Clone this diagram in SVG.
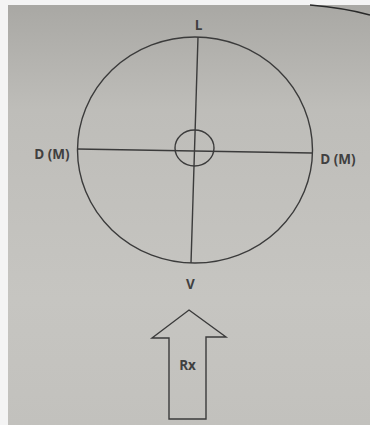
<svg xmlns="http://www.w3.org/2000/svg" width="370" height="425" viewBox="0 0 370 425">
<defs>
<linearGradient id="paper" x1="0" y1="0" x2="0" y2="1">
<stop offset="0" stop-color="#a9a8a4"/>
<stop offset="0.25" stop-color="#bebdb9"/>
<stop offset="0.7" stop-color="#c6c5c1"/>
<stop offset="1" stop-color="#c2c1bd"/>
</linearGradient>
<style>
.ln{fill:none;stroke:#3b3b3b;stroke-width:1.4}
.lb{font-family:"Open Sans","Liberation Sans",sans-serif;font-weight:bold;font-size:13.5px;fill:#404040}
</style>
</defs>
<rect width="370" height="425" fill="#f4f4f4"/>
<rect x="8" y="5" width="362" height="420" fill="url(#paper)"/>
<path d="M310 5 Q345 8 370 15" fill="none" stroke="#2a2a2a" stroke-width="1.6"/>
<g id="connectors">
<line class="ln" x1="198" y1="37" x2="191" y2="263"/>
<line class="ln" x1="77" y1="149" x2="312" y2="153"/>
</g>
<g id="outer-circle"><ellipse class="ln" cx="195" cy="150" rx="117.5" ry="113"/></g>
<g id="inner-circle"><ellipse class="ln" cx="194.5" cy="148" rx="19.5" ry="18"/></g>
<g id="label-L"><text class="lb" x="198.5" y="30" text-anchor="middle" font-size="12">L</text></g>
<g id="label-DM-left"><text class="lb" x="52" y="159" text-anchor="middle">D (M)</text></g>
<g id="label-DM-right"><text class="lb" x="338" y="163.5" text-anchor="middle">D (M)</text></g>
<g id="label-V"><text class="lb" x="190.5" y="288.5" text-anchor="middle" font-size="12">V</text></g>
<g id="arrow-Rx">
<path class="ln" d="M189 310 L226 337 L206 337 L206 419 L169 419 L169 338 L152 338 Z" stroke-linejoin="miter"/>
<text class="lb" x="187.5" y="370" text-anchor="middle">Rx</text>
</g>
</svg>
